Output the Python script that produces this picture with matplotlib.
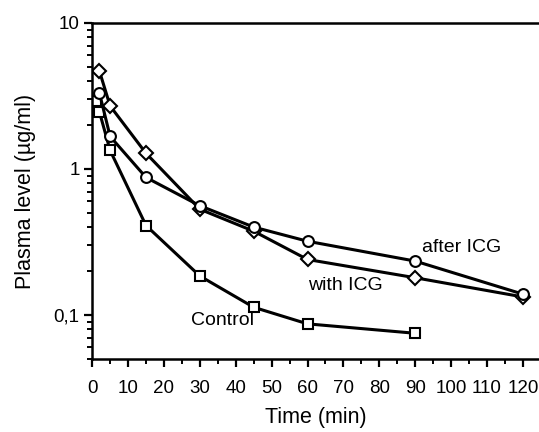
import matplotlib
matplotlib.use("Agg")
import matplotlib.pyplot as plt
from matplotlib.ticker import MultipleLocator, LogLocator, FixedLocator, FixedFormatter

plt.rcParams['font.family'] = ['Liberation Sans', 'DejaVu Sans']

# data
t_control = [1, 2, 5, 15, 30, 45, 60, 90]
control = [2.9, 2.47, 1.34, 0.41, 0.185, 0.113, 0.087, 0.075]

t_icg = [2, 5, 15, 30, 45, 60, 90, 120]
with_icg = [4.7, 2.7, 1.28, 0.53, 0.375, 0.24, 0.18, 0.133]
after_icg = [3.33, 1.67, 0.875, 0.56, 0.40, 0.32, 0.234, 0.139]

y_ticks = [0.1, 1, 10]
y_labels = ["0,1", "1", "10"]

fig = plt.figure(figsize=(5.39, 4.32), dpi=100)
ax = fig.add_axes([0.171, 0.169, 0.829, 0.778])

line_kw = dict(color='black', lw=2.2, markerfacecolor='white',
               markeredgecolor='black', markeredgewidth=1.5)
ax.plot(t_control, control, marker='s', ms=6.5, **line_kw)
ax.plot(t_icg, with_icg, marker='D', ms=6.8, **line_kw)
ax.plot(t_icg, after_icg, marker='o', ms=7.8, **line_kw)

ax.set_yscale('log')
ax.set_ylim(0.05, 10)
ax.set_xlim(0, 124.5)

ax.xaxis.set_major_locator(MultipleLocator(10))
ax.xaxis.set_minor_locator(MultipleLocator(5))
ax.yaxis.set_major_locator(FixedLocator(y_ticks))
ax.yaxis.set_major_formatter(FixedFormatter(y_labels))
ax.yaxis.set_minor_locator(LogLocator(base=10, subs=range(2, 10)))
ax.yaxis.set_minor_formatter(FixedFormatter([]))

ax.tick_params(which='major', direction='out', length=6, width=1.6, labelsize=13.5)
ax.tick_params(which='minor', direction='out', length=3.5, width=1.4)
ax.tick_params(axis='x', pad=9)
ax.tick_params(axis='y', pad=3)

for side in ['left', 'bottom', 'top']:
    ax.spines[side].set_linewidth(1.8)
ax.spines['right'].set_visible(False)

ax.set_xlabel("Time (min)", fontsize=15.5, labelpad=7)
ax.set_ylabel("Plasma level (µg/ml)", fontsize=15.5, labelpad=13)

ax.text(103, 0.291, "after ICG", fontsize=14, ha='center', va='center')
ax.text(70.5, 0.16, "with ICG", fontsize=14, ha='center', va='center')
ax.text(36.3, 0.092, "Control", fontsize=14, ha='center', va='center')

fig.savefig("out.png", dpi=100)
